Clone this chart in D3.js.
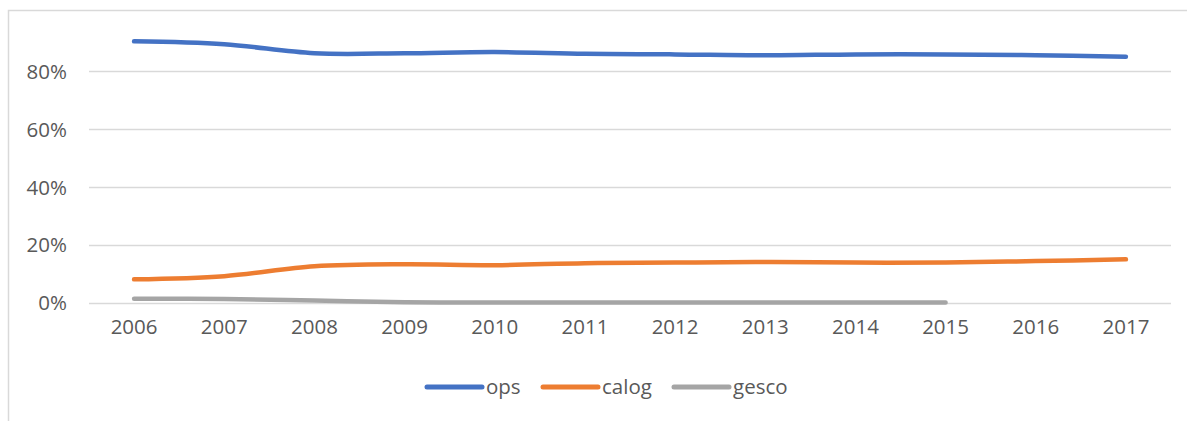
<!DOCTYPE html>
<html>
<head>
<meta charset="utf-8">
<script src="https://cdn.jsdelivr.net/npm/d3@7/dist/d3.min.js"></script>
<style>
  html, body { margin: 0; padding: 0; background: #fff; }
  svg { display: block; }
  text { font-family: "Open Sans", "Liberation Sans", sans-serif; fill: #595959; }
</style>
</head>
<body>
<svg id="chart" width="1187" height="421"></svg>
<script>
// Share of each operator per year
const years = ["2006","2007","2008","2009","2010","2011","2012","2013","2014","2015","2016","2017"];
const ops   = [0.902, 0.892, 0.861, 0.861, 0.865, 0.859, 0.857, 0.854, 0.857, 0.857, 0.854, 0.849];
const calog = [0.080, 0.091, 0.125, 0.132, 0.129, 0.136, 0.138, 0.140, 0.138, 0.138, 0.143, 0.149];
const gesco = [0.013, 0.012, 0.007, 0.001, 0.000, 0.000, 0.000, 0.000, 0.000, 0.000];
const yTicks = [0, 0.2, 0.4, 0.6, 0.8];

const series = [
  { name: "ops",   values: ops,   color: "#4472c4" },
  { name: "calog", values: calog, color: "#ed7d31" },
  { name: "gesco", values: gesco, color: "#a5a5a5" }
];

const svg = d3.select("#chart");

// outer chart frame
svg.append("rect")
  .attr("x", 8.5).attr("y", 10.5)
  .attr("width", 1200).attr("height", 440)
  .attr("fill", "none").attr("stroke", "#d9d9d9").attr("stroke-width", 1.5);

const plot = { left: 89, right: 1171, top: 13, bottom: 302.5 };

const x = d3.scaleBand().domain(years).range([plot.left, plot.right]);
const y = d3.scaleLinear().domain([0, 1]).range([plot.bottom, plot.top]);

// horizontal gridlines
svg.append("g")
  .selectAll("line")
  .data(yTicks)
  .join("line")
  .attr("x1", plot.left).attr("x2", plot.right)
  .attr("y1", d => Math.round(y(d)) + 0.5).attr("y2", d => Math.round(y(d)) + 0.5)
  .attr("stroke", "#d9d9d9").attr("stroke-width", 1.5);

// y axis labels
const yAxis = d3.axisLeft(y).tickValues(yTicks).tickFormat(d3.format(".0%")).tickSize(0).tickPadding(0);
svg.append("g")
  .attr("transform", `translate(${plot.left - 22},0)`)
  .call(yAxis)
  .call(g => g.select(".domain").remove())
  .call(g => g.selectAll("text")
    .attr("font-size", "20.5px")
    .attr("font-family", null)
    .attr("fill", "#595959")
    .attr("dy", "0.36em"));

// x axis labels
const xAxis = d3.axisBottom(x).tickSize(0).tickPadding(0);
svg.append("g")
  .attr("transform", `translate(0,${plot.bottom + 17})`)
  .call(xAxis)
  .call(g => g.select(".domain").remove())
  .call(g => g.selectAll("text")
    .attr("font-size", "20.5px")
    .attr("font-family", null)
    .attr("fill", "#595959")
    .attr("dy", "0.71em"));

// smoothed series lines
const line = d3.line()
  .x((d, i) => x(years[i]) + x.bandwidth() / 2)
  .y(d => y(d))
  .curve(d3.curveCatmullRom.alpha(0.5));

svg.append("g")
  .selectAll("path")
  .data(series)
  .join("path")
  .attr("d", s => line(s.values))
  .attr("fill", "none")
  .attr("stroke", s => s.color)
  .attr("stroke-width", 4.5)
  .attr("stroke-linecap", "round")
  .attr("stroke-linejoin", "round");

// legend
const legendX = [427, 543, 674];
const legendY = 387;
const lg = svg.append("g")
  .selectAll("g")
  .data(series)
  .join("g")
  .attr("transform", (d, i) => `translate(${legendX[i]},${legendY})`);
lg.append("line")
  .attr("x1", 0).attr("x2", 55)
  .attr("y1", 0).attr("y2", 0)
  .attr("stroke", d => d.color)
  .attr("stroke-width", 5)
  .attr("stroke-linecap", "round");
lg.append("text")
  .attr("x", 59).attr("y", 0)
  .attr("dy", "0.36em")
  .attr("font-size", "20.5px")
  .text(d => d.name);
</script>
</body>
</html>
